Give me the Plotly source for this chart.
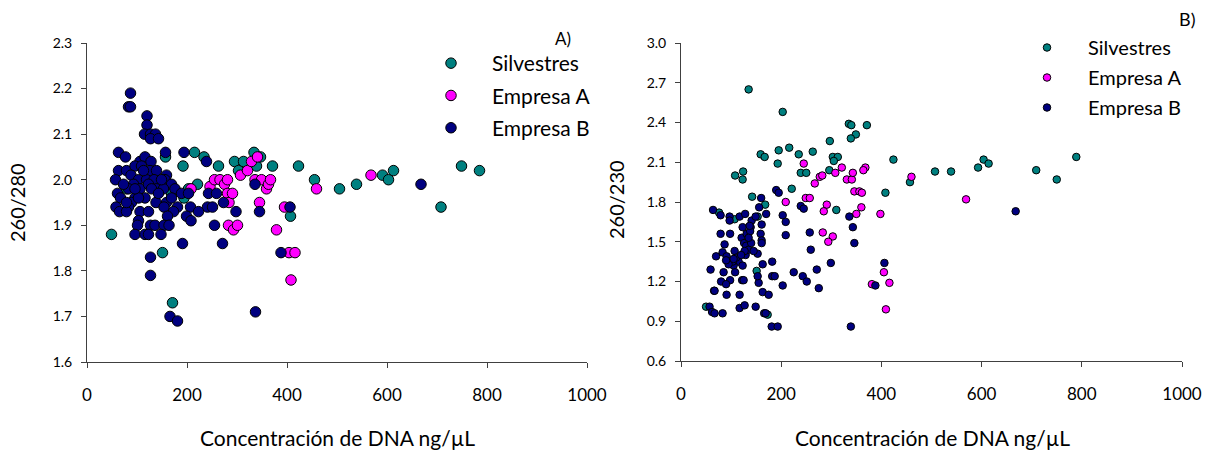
import plotly.graph_objects as go

# ---------------- Data: panel A (260/280) ----------------
a_silv_conc = [49, 79, 151, 157, 169, 171, 192, 194, 203, 215, 221, 234, 263, 295, 303, 313,
               334, 339, 347, 371, 407, 423, 455, 505, 539, 591, 603, 613, 708, 749, 785]
a_silv_ratio = [1.88, 1.98, 1.84, 2.05, 1.97, 1.73, 2.03, 1.96, 1.98, 2.06, 1.99, 2.05, 2.03, 2.04, 2.02, 2.04,
                2.06, 2.03, 2.05, 2.03, 1.92, 2.03, 2.00, 1.98, 1.99, 2.01, 2.00, 2.02, 1.94, 2.03, 2.02]

a_empA_conc = [208, 246, 255, 266, 275, 281, 281, 284, 283, 291, 293, 301, 307, 321, 329, 336, 341,
               345, 349, 359, 363, 367, 379, 395, 404, 408, 416, 459, 568]
a_empA_ratio = [1.98, 1.985, 2.00, 2.00, 1.99, 2.00, 1.97, 1.95, 1.90, 1.97, 1.89, 1.90, 2.01, 2.02, 2.04, 2.00, 2.05,
                1.95, 2.00, 1.98, 1.99, 2.00, 1.89, 1.94, 1.84, 1.78, 1.84, 1.98, 2.01]

a_empB_conc = [87, 83, 87, 120, 120, 115, 127, 137, 127, 143, 63, 77, 157, 194, 239, 106, 116, 128,
               63, 79, 96, 109, 126, 139, 159, 88, 57, 103, 119, 134, 156, 93, 169, 336, 83, 106,
               123, 139, 153, 176, 61, 96, 116, 189, 203, 243, 259, 67, 138, 159, 181, 207, 241, 251,
               273, 58, 89, 83, 65, 79, 106, 123, 154, 173, 298, 345, 161, 103, 199, 208, 101, 127,
               136, 154, 164, 255, 96, 116, 123, 148, 191, 271, 127, 127, 166, 181, 337, 388, 223,
               668, 406, 73, 113, 149, 129, 103, 96, 143, 79, 169]
a_empB_ratio = [2.19, 2.16, 2.16, 2.14, 2.12, 2.10, 2.10, 2.10, 2.09, 2.09, 2.06, 2.05, 2.06, 2.06, 2.04, 2.04, 2.05, 2.04,
                2.02, 2.02, 2.03, 2.03, 2.02, 2.02, 2.01, 2.01, 2.00, 2.00, 2.00, 2.00, 2.00, 1.99, 1.99, 1.99, 1.98, 1.98,
                1.99, 1.98, 1.98, 1.98, 1.97, 1.96, 1.96, 1.97, 1.97, 1.97, 1.97, 1.96, 1.95, 1.95, 1.94, 1.94, 1.94, 1.94,
                1.95, 1.94, 1.95, 1.94, 1.93, 1.93, 1.93, 1.93, 1.94, 1.93, 1.93, 1.93, 1.92, 1.91, 1.92, 1.91, 1.90, 1.90,
                1.90, 1.90, 1.90, 1.90, 1.88, 1.88, 1.88, 1.88, 1.86, 1.86, 1.83, 1.79, 1.70, 1.69, 1.71, 1.84, 1.93,
                1.99, 1.94, 1.99, 2.02, 2.00, 1.98, 1.96, 1.98, 1.97, 1.95, 1.96]

# ---------------- Data: panel B (260/230) ----------------
b_silv_conc = [135, 203, 335, 340, 371, 349, 339, 297, 159, 167, 195, 216, 235, 263, 193, 303, 313, 305,
               424, 108, 124, 123, 239, 250, 296, 221, 142, 168, 310, 408, 107, 153, 151, 50, 173, 76,
               457, 507, 539, 593, 604, 614, 709, 750, 789]
b_silv_ratio = [2.65, 2.48, 2.39, 2.38, 2.38, 2.31, 2.28, 2.26, 2.16, 2.14, 2.19, 2.21, 2.16, 2.18, 2.09, 2.14, 2.14, 2.11,
                2.12, 2.00, 2.03, 1.97, 2.02, 2.02, 2.04, 1.90, 1.84, 1.78, 1.74, 1.87, 1.67, 1.69, 1.28, 1.01, 0.95, 1.72,
                1.95, 2.03, 2.03, 2.06, 2.12, 2.09, 2.04, 1.97, 2.14]

b_empA_conc = [245, 321, 368, 364, 277, 282, 267, 308, 331, 341, 343, 346, 356, 361, 249, 257, 209, 291,
               285, 360, 350, 398, 283, 303, 294, 405, 381, 416, 409, 460, 569]
b_empA_ratio = [2.09, 2.06, 2.06, 2.04, 1.99, 2.00, 1.94, 2.02, 1.97, 1.97, 2.02, 1.88, 1.88, 1.87, 1.83, 1.83, 1.80, 1.78,
                1.73, 1.76, 1.71, 1.71, 1.57, 1.54, 1.50, 1.27, 1.18, 1.19, 0.99, 1.99, 1.82]

b_empB_conc = [190, 195, 160, 156, 170, 239, 245, 203, 209, 209, 257, 259, 336, 343, 346, 299, 271, 406,
               388, 339, 225, 243, 251, 275, 182, 182, 187, 203, 181, 193, 163, 175, 166, 169, 149, 117,
               117, 127, 155, 153, 163, 122, 125, 98, 80, 90, 66, 91, 59, 85, 70, 83, 87, 91, 79, 98,
               64, 79, 97, 97, 117, 128, 141, 139, 149, 161, 159, 161, 161, 153, 129, 107, 115, 123, 105,
               108, 103, 95, 121, 126, 131, 138, 123, 130, 135, 140, 145, 127, 137, 110, 105, 90, 120,
               135, 57, 62, 67, 83, 67, 668]
b_empB_ratio = [1.89, 1.87, 1.83, 1.76, 1.71, 1.77, 1.75, 1.70, 1.65, 1.55, 1.57, 1.44, 1.69, 1.61, 1.49, 1.34, 1.29, 1.34,
                1.17, 0.86, 1.27, 1.24, 1.20, 1.15, 1.35, 1.24, 1.24, 1.17, 0.86, 0.86, 1.12, 1.10, 0.96, 0.96, 1.01, 1.10,
                1.00, 1.02, 1.19, 1.24, 1.33, 1.21, 1.21, 1.21, 1.20, 1.18, 1.13, 1.10, 1.29, 1.27, 1.39, 1.42, 1.48, 1.39,
                1.56, 1.56, 1.74, 1.70, 1.69, 1.66, 1.69, 1.71, 1.66, 1.61, 1.69, 1.63, 1.56, 1.51, 1.49, 1.41, 1.40, 1.43,
                1.35, 1.32, 1.32, 1.27, 1.35, 1.33, 1.53, 1.49, 1.56, 1.58, 1.61, 1.47, 1.44, 1.49, 1.43, 1.43, 1.62, 1.38,
                1.37, 1.36, 1.40, 1.53, 1.01, 0.97, 0.96, 0.96, 1.13, 1.73]

series_names = ["Silvestres", "Empresa A", "Empresa B"]
series_colors = ["#008080", "#FF00FF", "#000080"]

W, H = 1212, 452
FONT = "Lato"

def px_x(p):
    return p / W

def px_y(p):
    return 1 - p / H

fig = go.Figure()

panelA = [(a_silv_conc, a_silv_ratio), (a_empA_conc, a_empA_ratio), (a_empB_conc, a_empB_ratio)]
panelB = [(b_silv_conc, b_silv_ratio), (b_empA_conc, b_empA_ratio), (b_empB_conc, b_empB_ratio)]

for i, (xs, ys) in enumerate(panelA):
    fig.add_trace(go.Scatter(
        x=xs, y=ys, mode="markers", name=series_names[i],
        marker=dict(size=10.5, color=series_colors[i], line=dict(color="black", width=1)),
        xaxis="x", yaxis="y", legend="legend", legendgroup="a" + str(i)))

for i, (xs, ys) in enumerate(panelB):
    fig.add_trace(go.Scatter(
        x=xs, y=ys, mode="markers", name=series_names[i],
        marker=dict(size=7.5, color=series_colors[i], line=dict(color="black", width=1)),
        xaxis="x2", yaxis="y2", legend="legend2", legendgroup="b" + str(i)))

axis_line = "#404040"
xcommon = dict(range=[0, 1000], tickvals=[0, 200, 400, 600, 800, 1000], showgrid=False, zeroline=False,
               showline=True, linecolor=axis_line, linewidth=1, ticks="outside", ticklen=5,
               tickcolor=axis_line, tickfont=dict(family=FONT, size=17, color="black"),
               ticklabelstandoff=13, automargin=False, fixedrange=True)
ycommon = dict(showgrid=False, zeroline=False, showline=True, linecolor=axis_line, linewidth=1,
               ticks="outside", ticklen=5, tickcolor=axis_line, tickformat=".1f",
               tickfont=dict(family=FONT, size=14, color="black"), ticklabelstandoff=6,
               automargin=False, fixedrange=True)

legend_common = dict(xanchor="left", yanchor="top", bgcolor="rgba(0,0,0,0)", itemwidth=72)

fig.update_layout(
    width=W, height=H, margin=dict(l=0, r=0, t=0, b=0, pad=0, autoexpand=False),
    paper_bgcolor="white", plot_bgcolor="white",
    xaxis=dict(domain=[px_x(87), px_x(587)], anchor="y", **xcommon),
    yaxis=dict(domain=[px_y(362), px_y(43)], anchor="x", range=[1.6, 2.3], dtick=0.1, tick0=1.6, **ycommon),
    xaxis2=dict(domain=[px_x(681), px_x(1182)], anchor="y2", **xcommon),
    yaxis2=dict(domain=[px_y(361), px_y(43)], anchor="x2", range=[0.6, 3.0], dtick=0.3, tick0=0.6, **ycommon),
    legend=dict(x=px_x(410), y=px_y(43), tracegroupgap=2,
                font=dict(family=FONT, size=21, color="black"), **legend_common),
    legend2=dict(x=px_x(1006), y=px_y(28), tracegroupgap=1,
                 font=dict(family=FONT, size=20, color="black"), **legend_common),
    showlegend=True,
)

ann_font = dict(family=FONT, size=21, color="black")
def ann(text, x, y, **kw):
    fig.add_annotation(text=text, x=px_x(x), y=px_y(y), xref="paper", yref="paper",
                       xanchor="center", yanchor="middle", showarrow=False, **kw)

ann("260/280", 17, 203, textangle=-90, font=dict(family=FONT, size=20, color="black"))
ann("260/230", 616, 200, textangle=-90, font=dict(family=FONT, size=20, color="black"))
ann("Concentración de DNA ng/µL", 337, 437, font=ann_font)
ann("Concentración de DNA ng/µL", 932, 437, font=ann_font)
ann("A)", 563, 38, font=dict(family=FONT, size=17, color="black"))
ann("B)", 1187, 19, font=dict(family=FONT, size=18, color="black"))

fig.write_html("out.html")
